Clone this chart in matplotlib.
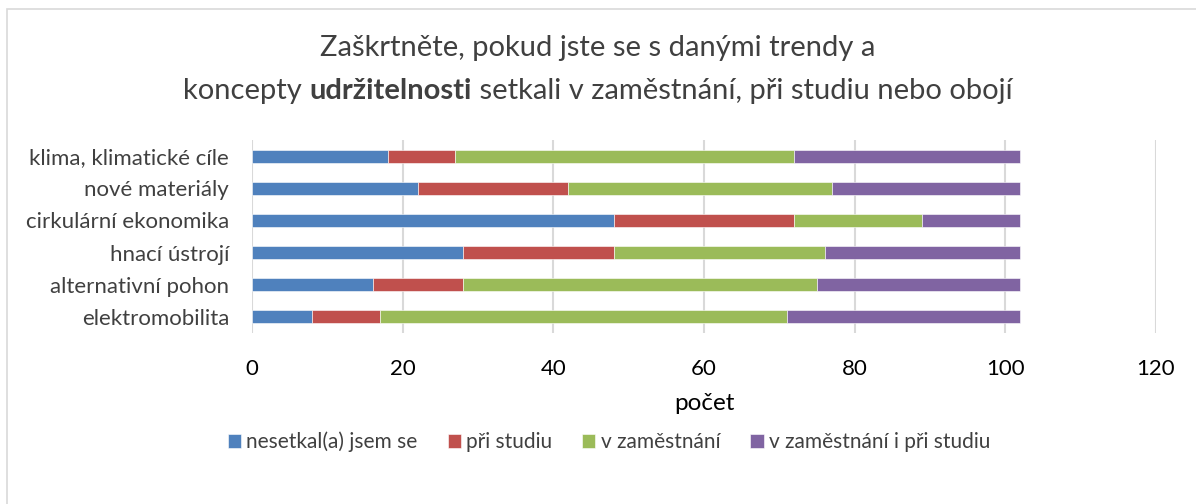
import matplotlib
matplotlib.use("Agg")
import matplotlib.pyplot as plt
from matplotlib.offsetbox import TextArea, HPacker, AnchoredOffsetbox
from matplotlib.patches import Rectangle
import numpy as np

plt.rcParams['font.family'] = ['Lato', 'DejaVu Sans']

# data (bottom -> top in the chart)
categories = ['elektromobilita', 'alternativní pohon', 'hnací ústrojí',
              'cirkulární ekonomika', 'nové materiály', 'klima, klimatické cíle']
nesetkal = [8, 16, 28, 48, 22, 18]
pri_studiu = [9, 12, 20, 24, 20, 9]
v_zamestnani = [54, 47, 28, 17, 35, 45]
oboji = [31, 27, 26, 13, 25, 30]

series = [nesetkal, pri_studiu, v_zamestnani, oboji]
names = ['nesetkal(a) jsem se', 'při studiu', 'v zaměstnání', 'v zaměstnání i při studiu']
colors = ['#4F81BD', '#C0504D', '#9BBB59', '#8064A2']
txt = '#404040'

fig = plt.figure(figsize=(11.96, 5.04), dpi=100)
# chart frame (only top and left edges fall inside the image)
fig.patches.append(Rectangle((7/1196, -0.05), 1.1, 1 - 9/504 + 0.05, transform=fig.transFigure,
                             fill=False, edgecolor='#d9d9d9', linewidth=1.2))

ax = fig.add_axes([252/1196, 1-333/504, (1156-252)/1196, 193/504])
y = np.arange(len(categories))
left = np.zeros(len(categories))
for vals, name, c in zip(series, names, colors):
    ax.barh(y, vals, left=left, height=0.4, color=c, label=name,
            edgecolor='white', linewidth=0.4, zorder=3)
    left += np.array(vals)

ax.set_xlim(0, 120)
ax.set_ylim(-0.5, len(categories) - 0.5)
ax.set_xticks(range(0, 121, 20))
ax.set_yticks(y)
ax.set_yticklabels(categories)
ax.tick_params(axis='both', length=0, labelsize=16, colors=txt)
ax.tick_params(axis='x', labelcolor='black', pad=19)
ax.tick_params(axis='y', pad=16.5)
ax.grid(axis='x', color='#d9d9d9', linewidth=1.5, zorder=0)
for s in ax.spines.values():
    s.set_visible(False)
ax.set_xlabel('počet', fontsize=17.5, color='black', labelpad=10)

# title, two lines, one bold word
fs = 21
line1 = TextArea('Zaškrtněte, pokud jste se s danými trendy a',
                 textprops=dict(fontsize=fs, color=txt))
parts = [TextArea('koncepty ', textprops=dict(fontsize=fs, color=txt)),
         TextArea('udržitelnosti', textprops=dict(fontsize=fs, color=txt, fontweight='bold')),
         TextArea(' setkali v zaměstnání, při studiu nebo obojí', textprops=dict(fontsize=fs, color=txt))]
line2 = HPacker(children=parts, align='baseline', pad=0, sep=0)
for box, yc in [(line1, 48), (line2, 91)]:
    ab = AnchoredOffsetbox(loc='center', child=box, frameon=False, pad=0, borderpad=0,
                           bbox_to_anchor=(0.5, 1 - yc/504), bbox_transform=fig.transFigure)
    fig.add_artist(ab)

fig.legend(loc='center', bbox_to_anchor=(609/1196, 1-442/504), ncol=4, frameon=False,
           fontsize=15, handlelength=0.63, handleheight=0.63, handletextpad=0.25,
           columnspacing=1.45, labelcolor=txt)

fig.savefig('out.png', dpi=100)
